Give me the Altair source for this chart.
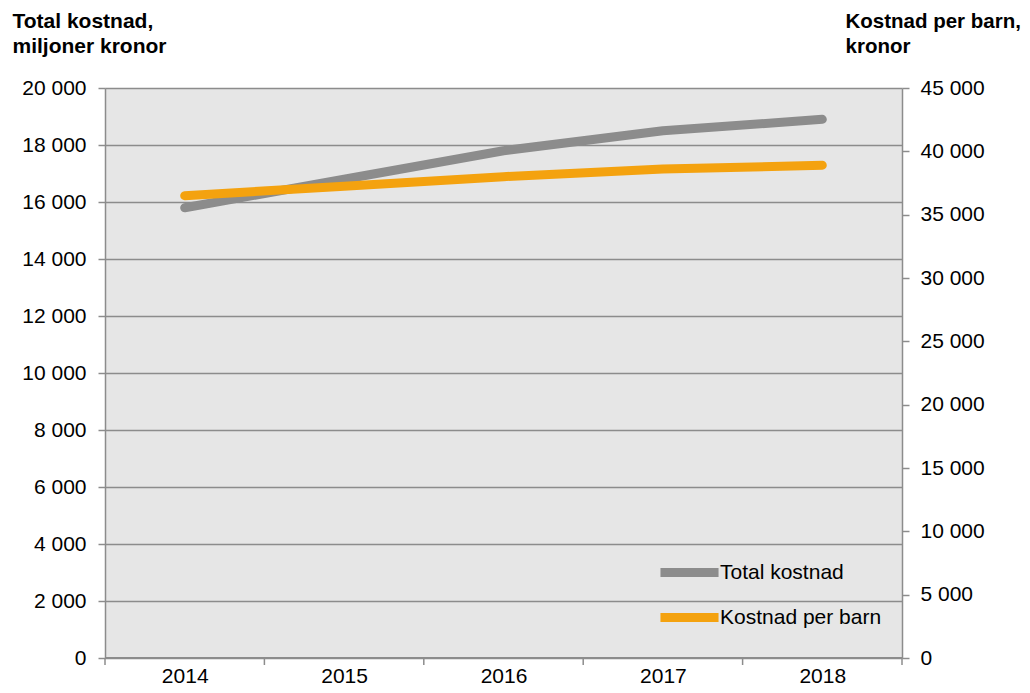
import altair as alt
import pandas as pd

years = [2014, 2015, 2016, 2017, 2018]
total_kostnad = [15800, 16800, 17800, 18500, 18900]
kostnad_per_barn = [36500, 37250, 38000, 38600, 38900]
series_names = ["Total kostnad", "Kostnad per barn"]
series_colors = ["#8c8c8c", "#f4a20f"]
left_ticks = list(range(0, 20001, 2000))
right_ticks = list(range(0, 45001, 5000))

df = pd.DataFrame({"year": years, "total": total_kostnad, "barn": kostnad_per_barn,
                   "s1": [series_names[0]] * len(years),
                   "s2": [series_names[1]] * len(years)})
bounds = pd.DataFrame({"b": [y - 0.5 for y in years] + [years[-1] + 0.5]})

FONT = "Liberation Sans"
GRID = "#8c8c8c"
W, H = 797, 570

xscale = alt.Scale(domain=[years[0] - 0.5, years[-1] + 0.5], nice=False, zero=False)
color_scale = alt.Scale(domain=series_names, range=series_colors)
label_expr = "replace(format(datum.value, ','), ',', ' ')"

x_axis = alt.Axis(values=years, format="d", title=None, ticks=False, domain=False,
                  grid=False, labelFontSize=21, labelFont=FONT, labelColor="#000",
                  labelPadding=7)

legend = alt.Legend(title=None, orient="none", legendX=558, legendY=458,
                    symbolType="M-1.32,0H1.32", symbolSize=1936,
                    symbolStrokeWidth=9, labelFontSize=21, labelLimit=400,
                    labelFont=FONT, labelColor="#000", labelOffset=4,
                    rowPadding=0, padding=0)

left = alt.Chart(df).mark_line(strokeWidth=9, strokeCap="round", strokeJoin="round").encode(
    x=alt.X("year:Q", scale=xscale, axis=x_axis),
    y=alt.Y("total:Q", scale=alt.Scale(domain=[0, 20000], nice=False),
            axis=alt.Axis(values=left_ticks, labelExpr=label_expr, orient="left",
                          title=["Total kostnad,", "miljoner kronor"], titleAngle=0,
                          titleAlign="left", titleBaseline="alphabetic",
                          titleX=-93, titleY=-61, titleFontSize=21, titleFont=FONT,
                          titleFontWeight="bold", titleColor="#000", titleLineHeight=25,
                          grid=True, gridColor=GRID, gridWidth=1.5, gridOpacity=1,
                          domain=True, domainColor=GRID, domainWidth=1.5,
                          tickColor=GRID, tickWidth=1.5, tickSize=7,
                          labelFontSize=21, labelFont=FONT, labelColor="#000",
                          labelPadding=12)),
    color=alt.Color("s1:N", scale=color_scale, legend=legend),
)

right = alt.Chart(df).mark_line(strokeWidth=9, strokeCap="round", strokeJoin="round").encode(
    x=alt.X("year:Q", scale=xscale, axis=x_axis),
    y=alt.Y("barn:Q", scale=alt.Scale(domain=[0, 45000], nice=False),
            axis=alt.Axis(values=right_ticks, labelExpr=label_expr, orient="right",
                          title=["Kostnad per barn,", "kronor"], titleAngle=0,
                          titleAlign="left", titleBaseline="alphabetic",
                          titleX=-57, titleY=-61, titleFontSize=20.5, titleFont=FONT,
                          titleFontWeight="bold", titleColor="#000", titleLineHeight=25,
                          grid=False, domain=True, domainColor=GRID, domainWidth=1.5,
                          tickColor=GRID, tickWidth=1.5, tickSize=7,
                          labelFontSize=21, labelFont=FONT, labelColor="#000",
                          labelPadding=11)),
    color=alt.Color("s2:N", scale=color_scale, legend=legend),
)

xticks = alt.Chart(bounds).mark_rule(color=GRID, strokeWidth=1.5).encode(
    x=alt.X("b:Q", scale=xscale, axis=x_axis),
    y=alt.value(H),
    y2=alt.value(H + 7),
)

base_line = alt.Chart(bounds).mark_rule(color=GRID, strokeWidth=1.5).encode(
    x=alt.value(0), x2=alt.value(W), y=alt.value(H)
)

chart = alt.layer(left, right, xticks, base_line).resolve_scale(y="independent").properties(
    width=W, height=H,
    autosize=alt.AutoSizeParams(type="none"),
    padding={"left": 97, "top": 80, "right": 120, "bottom": 27},
    background="#ffffff",
).configure_view(fill="#e6e6e6", stroke=None)

chart.save("out.html", embed_options={"renderer": "svg", "actions": False})
